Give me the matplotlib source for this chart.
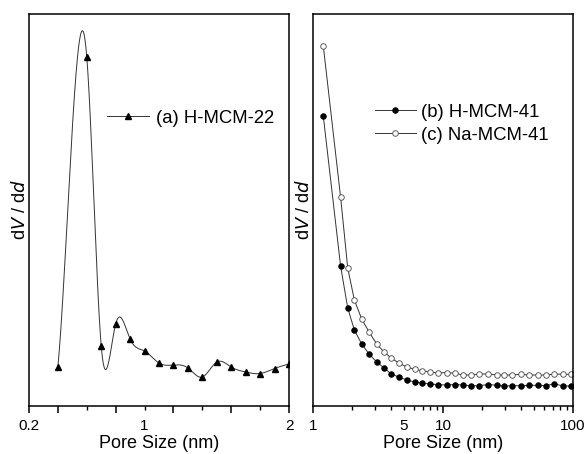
import numpy as np
import matplotlib
matplotlib.use("Agg")
import matplotlib.pyplot as plt

plt.rcParams['font.family'] = ['Liberation Sans', 'DejaVu Sans']

# (a) H-MCM-22, pore size in nm, dV/dd in arbitrary units
size_a = [0.4, 0.6, 0.7, 0.8, 0.9, 1.0, 1.1, 1.2, 1.3, 1.4, 1.5, 1.6, 1.7, 1.8, 1.9, 2.0]
dvdd_a = [39, 349, 60, 82, 67, 55, 43, 41, 38, 29, 44, 39, 34, 32.5, 37.5, 42]

# (b) H-MCM-41 and (c) Na-MCM-41
size_bc = [1.2, 1.63, 1.85, 2.08, 2.37, 2.70, 3.09, 3.52, 4.00, 4.56, 5.26, 6.06,
           6.93, 7.94, 9.21, 10.7, 12.4, 14.2, 16.3, 19.0, 22.3, 25.9, 29.6, 34.1,
           39.8, 46.1, 53.5, 62.0, 71.8, 83.3, 96.6]
dvdd_b = [290, 140, 98, 76, 62, 52, 44, 38, 32, 29, 26, 24,
          23, 22, 21.3, 21, 21.5, 21, 20.3, 20.3, 21.5, 20.7, 20, 20.3,
          20.3, 20.7, 20.7, 20.3, 22.3, 20, 20]
dvdd_c = [360, 209, 138, 106, 87, 74, 62, 54, 48, 43, 39, 36.7,
          35.3, 34, 33, 33.5, 32.7, 31, 31, 32, 32, 31, 31, 31,
          31.7, 31, 31, 31, 32, 31.7, 31.7]


def spline_line(x, y, n=60):
    # cubic spline through the points (first end clamped to the secant, last end natural)
    x = np.asarray(x, float)
    y = np.asarray(y, float)
    k = len(x)
    h = np.diff(x)
    A = np.zeros((k, k))
    r = np.zeros(k)
    A[0, 0], A[0, 1] = 2, 1
    A[-1, -1] = 1
    for i in range(1, k - 1):
        A[i, i - 1] = h[i - 1]
        A[i, i] = 2 * (h[i - 1] + h[i])
        A[i, i + 1] = h[i]
        r[i] = 6 * ((y[i + 1] - y[i]) / h[i] - (y[i] - y[i - 1]) / h[i - 1])
    m = np.linalg.solve(A, r)
    xs, ys = [], []
    for i in range(k - 1):
        t = np.linspace(x[i], x[i + 1], n)
        a = (x[i + 1] - t) / h[i]
        b = (t - x[i]) / h[i]
        s = (a * y[i] + b * y[i + 1]
             + ((a ** 3 - a) * m[i] + (b ** 3 - b) * m[i + 1]) * h[i] ** 2 / 6)
        xs.append(t)
        ys.append(s)
    return np.concatenate(xs), np.concatenate(ys)


fig = plt.figure(figsize=(5.86, 4.54), dpi=100)
W, H = 586, 454
ax1 = fig.add_axes([29 / W, 48 / H, 260 / W, 392 / H])
ax2 = fig.add_axes([313 / W, 48 / H, 260 / W, 392 / H])

lc = '#333333'
sx, sy = spline_line(size_a, dvdd_a)
ax1.plot(sx, sy, color=lc, lw=0.7)
ax1.plot(size_a, dvdd_a, ls='none', marker='^', ms=4, color='black')
ax1.plot([], [], color=lc, lw=0.7, marker='^', ms=4, mfc='black', mec='black',
         label='(a) H-MCM-22')
ax1.set_xlim(0.2, 2.0)
ax1.set_ylim(0, 392)
ax1.set_xticks([0.2, 0.4, 0.8, 1.2, 1.6, 2.0])
ax1.set_xticklabels(['0.2', '', '', '', '', '2'])
ax1.set_xticks([0.6, 1.0, 1.4, 1.8], minor=True)
ax1.set_xticklabels(['', '1', '', ''], minor=True)

ax2.plot(size_bc, dvdd_b, color=lc, lw=0.7, marker='o', ms=4, mfc='black',
         mec='black', mew=0.6, label='(b) H-MCM-41')
ax2.plot(size_bc, dvdd_c, color=lc, lw=0.7, marker='o', ms=4, mfc='white',
         mec='#444444', mew=0.6, label='(c) Na-MCM-41')
ax2.set_xscale('log')
ax2.set_xlim(1, 100)
ax2.set_ylim(0, 392)
ax2.set_xticks([1, 10, 100])
ax2.set_xticklabels(['1', '10', '100'])
minors = [2, 3, 4, 5, 6, 7, 8, 9, 20, 30, 40, 50, 60, 70, 80, 90]
ax2.set_xticks(minors, minor=True)
ax2.set_xticklabels(['5' if v == 5 else '' for v in minors], minor=True)

for ax in (ax1, ax2):
    for s in ax.spines.values():
        s.set_linewidth(1.1)
    ax.set_yticks([])
    ax.tick_params(axis='x', which='major', direction='out', length=5, width=1.1,
                   labelsize=11, pad=4.5)
    ax.tick_params(axis='x', which='minor', direction='out', length=3.2, width=1.0,
                   labelsize=11, pad=5.8)
    ax.set_xlabel('Pore Size (nm)', fontsize=13, labelpad=1.5)
    ax.set_ylabel('d$\\it{V}$ / d$\\it{d}$', fontsize=13, labelpad=0)

ax1.legend(loc='upper left', bbox_to_anchor=(0.27, 0.775), frameon=False,
           fontsize=13.3, handlelength=2.3, handletextpad=0.35, borderaxespad=0)
ax2.legend(loc='upper left', bbox_to_anchor=(0.21, 0.79), frameon=False,
           fontsize=13.3, handlelength=2.2, handletextpad=0.3, labelspacing=0.33,
           borderaxespad=0)

fig.savefig('out.png', dpi=100)
